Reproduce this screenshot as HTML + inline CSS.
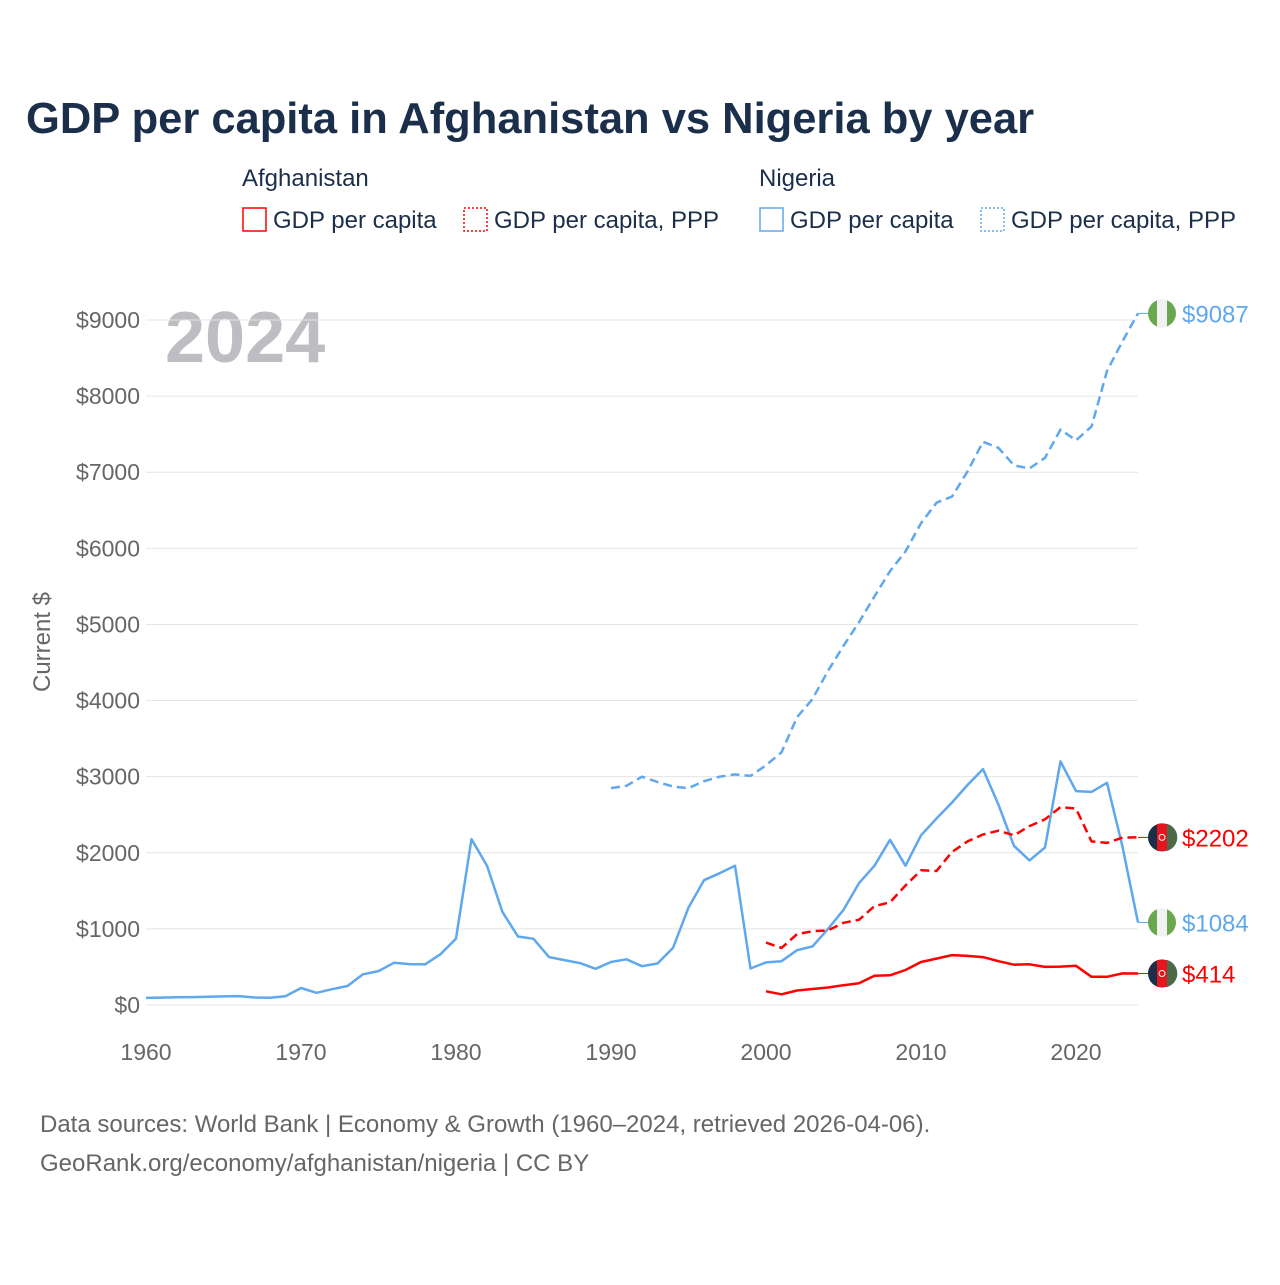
<!DOCTYPE html>
<html><head><meta charset="utf-8"><style>
body{margin:0;background:#fff;width:1280px;height:1280px;overflow:hidden;font-family:"Liberation Sans",sans-serif}
</style></head><body>
<svg id="chart" width="1280" height="1280" xmlns="http://www.w3.org/2000/svg" font-family="Liberation Sans, sans-serif">
<text x="26" y="133" font-size="43.5" font-weight="bold" fill="#1b2f4b">GDP per capita in Afghanistan vs Nigeria by year</text>
<text x="242" y="186" font-size="24" fill="#1b2f4b">Afghanistan</text>
<text x="759" y="186" font-size="24" fill="#1b2f4b">Nigeria</text>
<g><rect x="243" y="208" width="23" height="23" fill="none" stroke="#f00" stroke-width="1.5"/><text x="273" y="228" font-size="24" fill="#1b2f4b">GDP per capita</text></g>
<g><rect x="464" y="208" width="23" height="23" fill="none" stroke="#f00" stroke-width="1.5" stroke-dasharray="2,2"/><text x="494" y="228" font-size="24" fill="#1b2f4b">GDP per capita, PPP</text></g>
<g><rect x="760" y="208" width="23" height="23" fill="none" stroke="#5fa8ee" stroke-width="1.5"/><text x="790" y="228" font-size="24" fill="#1b2f4b">GDP per capita</text></g>
<g><rect x="981" y="208" width="23" height="23" fill="none" stroke="#5fa8ee" stroke-width="1.5" stroke-dasharray="2,2"/><text x="1011" y="228" font-size="24" fill="#1b2f4b">GDP per capita, PPP</text></g>
<text x="165" y="362" font-size="72" font-weight="bold" fill="#bdbdc2">2024</text>
<text transform="translate(50,642) rotate(-90)" text-anchor="middle" font-size="24" fill="#666">Current $</text>
<g id="grid"></g><g id="series"></g><g id="ends"></g>
<text x="40" y="1132" font-size="24" fill="#666">Data sources: World Bank | Economy &amp; Growth (1960–2024, retrieved 2026-04-06).</text>
<text x="40" y="1171" font-size="24" fill="#666">GeoRank.org/economy/afghanistan/nigeria | CC BY</text>
</svg>
<script>
const yTicks=[0,1000,2000,3000,4000,5000,6000,7000,8000,9000];
const xTicks=[1960,1970,1980,1990,2000,2010,2020];
const ngaStart=1960;
const ngaGdp=[93,97,103,104,108,113,117,99,95,115,224,160,208,250,403,445,555,537,533,668,872,2180,1830,1220,900,870,630,590,550,475,565,600,510,545,750,1280,1640,1730,1830,480,560,575,720,770,1000,1250,1600,1830,2170,1830,2230,2450,2660,2890,3100,2630,2090,1900,2070,3200,2810,2800,2920,2080,1084];
const ngaPppStart=1990;
const ngaPpp=[2850,2880,3000,2930,2870,2850,2940,3000,3030,3010,3150,3320,3780,4020,4390,4720,5030,5370,5700,5960,6330,6600,6680,7010,7400,7320,7090,7050,7190,7560,7420,7600,8330,8720,9087];
const afgStart=2000;
const afgGdp=[180,140,190,210,230,260,285,385,390,460,565,610,655,645,630,575,530,535,500,505,515,370,370,415,414];
const afgPpp=[820,750,930,970,980,1080,1120,1300,1350,1570,1770,1760,2010,2150,2240,2290,2230,2350,2440,2600,2580,2150,2130,2200,2202];
const NS="http://www.w3.org/2000/svg";
const X=yr=>146+(yr-1960)*15.5;
const Y=v=>1005-v*0.07611;
function mk(t,a,p){const e=document.createElementNS(NS,t);for(const k in a)e.setAttribute(k,a[k]);p.appendChild(e);return e;}
const grid=document.getElementById('grid');
yTicks.forEach(v=>{
 const l=mk('line',{x1:146,x2:1138,y1:Y(v),y2:Y(v),stroke:'#e4e4e4','stroke-width':1},grid);
 
 
 const t=mk('text',{x:140,y:Y(v)+8,'text-anchor':'end','font-size':23,fill:'#666'},grid);
 t.textContent='$'+v;
 
 
});
xTicks.forEach(yr=>{
 const t=mk('text',{x:X(yr),y:1060,'text-anchor':'middle','font-size':23,fill:'#666'},grid);
 t.textContent=yr;
 
 
});
const ser=document.getElementById('series');
function line(arr,start,color,dash,name){
 const d=arr.map((v,i)=>(i?'L':'M')+X(start+i).toFixed(1)+','+Y(v).toFixed(1)).join('');
 const p=mk('path',{d:d,fill:'none',stroke:color,'stroke-width':2.5,'stroke-linejoin':'round'},ser);
 if(dash)p.setAttribute('stroke-dasharray',dash);
 
 
}
line(ngaPpp,ngaPppStart,'#5fa8ee','9,5','nigeria-gdp-ppp-line');
line(ngaGdp,ngaStart,'#5fa8ee',null,'nigeria-gdp-line');
line(afgPpp,afgStart,'#f00','9,5','afghanistan-gdp-ppp-line');
line(afgGdp,afgStart,'#f00',null,'afghanistan-gdp-line');
const ends=document.getElementById('ends');
function endMark(v,color,flag,name){
 const y=Y(v);
 mk('line',{x1:X(2024),x2:1150,y1:y,y2:y,stroke:color,'stroke-width':1},ends);
 const g=mk('g',{},ends);
 
 
 if(flag==='nga'){
  mk('circle',{cx:1162,cy:y,r:14,fill:'#6aa84f'},g);
  mk('rect',{x:1157,y:y-14,width:10,height:28,fill:'#f2f2f2'},g);
 }else{
  mk('circle',{cx:1162,cy:y,r:14,fill:'#1b2f4b'},g);
  mk('rect',{x:1157,y:y-13.5,width:10,height:27,fill:'#e8141c'},g);
  mk('path',{d:`M1167,${y-13.5}A14,14 0 0 1 1167,${y+13.5}Z`,fill:'#4a6a4a'},g);
  mk('circle',{cx:1162,cy:y,r:3,fill:'none',stroke:'#fff','stroke-width':1},g);
 }
 const t=mk('text',{x:1182,y:y+9,'font-size':24,fill:color},ends);
 t.textContent='$'+v;
 
 
}
endMark(ngaPpp[ngaPpp.length-1],'#5fa8ee','nga','nigeria-ppp');
endMark(afgPpp[afgPpp.length-1],'#f00','afg','afghanistan-ppp');
endMark(ngaGdp[ngaGdp.length-1],'#5fa8ee','nga','nigeria-gdp');
endMark(afgGdp[afgGdp.length-1],'#f00','afg','afghanistan-gdp');
</script>
</body></html>
